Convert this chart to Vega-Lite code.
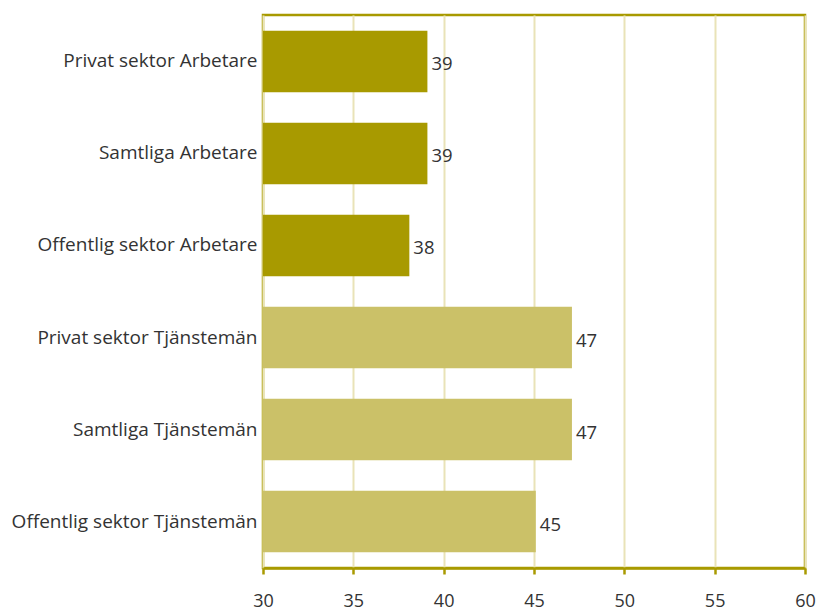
{
  "$schema": "https://vega.github.io/schema/vega-lite/v6.json",
  "width": 542,
  "height": 553,
  "autosize": "none",
  "padding": {"left": 263, "top": 15, "right": 11, "bottom": 42},
  "background": "white",
  "config": {
    "view": {"stroke": "#a89a00", "strokeWidth": 2.5},
    "font": "Open Sans"
  },
  "data": {
    "values": [
      {"kategori": "Privat sektor Arbetare", "varde": 39.1, "label": "39", "grupp": "Arbetare"},
      {"kategori": "Samtliga Arbetare", "varde": 39.1, "label": "39", "grupp": "Arbetare"},
      {"kategori": "Offentlig sektor Arbetare", "varde": 38.1, "label": "38", "grupp": "Arbetare"},
      {"kategori": "Privat sektor Tjänstemän", "varde": 47.1, "label": "47", "grupp": "Tjänstemän"},
      {"kategori": "Samtliga Tjänstemän", "varde": 47.1, "label": "47", "grupp": "Tjänstemän"},
      {"kategori": "Offentlig sektor Tjänstemän", "varde": 45.1, "label": "45", "grupp": "Tjänstemän"}
    ]
  },
  "encoding": {
    "y": {
      "field": "kategori",
      "type": "nominal",
      "sort": null,
      "scale": {"paddingInner": 0.33, "paddingOuter": 0.17},
      "axis": {
        "title": null,
        "ticks": false,
        "domain": false,
        "labelFontSize": 19,
        "labelColor": "#333333",
        "labelPadding": 6,
        "labelLimit": 0,
        "labelFont": "Open Sans"
      }
    },
    "x": {
      "field": "varde",
      "type": "quantitative",
      "scale": {"domain": [30, 60], "nice": false, "zero": false},
      "axis": {
        "title": null,
        "values": [30, 35, 40, 45, 50, 55, 60],
        "grid": true,
        "gridColor": "#e9e3b8",
        "gridWidth": 2,
        "domainColor": "#a89a00",
        "domainWidth": 2.5,
        "tickColor": "#a89a00",
        "tickWidth": 2.5,
        "tickSize": 6,
        "labelFontSize": 18,
        "labelColor": "#333333",
        "labelPadding": 18,
        "labelFlush": false
      }
    }
  },
  "layer": [
    {
      "mark": {"type": "bar", "clip": true},
      "encoding": {
        "x2": {"datum": 30},
        "color": {
          "field": "grupp",
          "type": "nominal",
          "scale": {"domain": ["Arbetare", "Tjänstemän"], "range": ["#a89a00", "#cbc168"]},
          "legend": null
        }
      }
    },
    {
      "mark": {"type": "text", "align": "left", "dx": 4, "dy": 3, "fontSize": 18.5, "color": "#333333"},
      "encoding": {"text": {"field": "label"}}
    }
  ]
}
